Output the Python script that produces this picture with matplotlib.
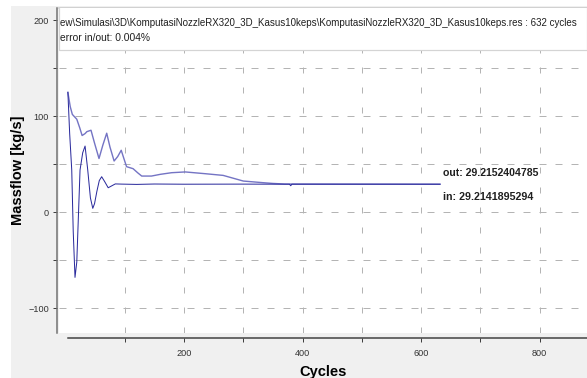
import matplotlib
matplotlib.use('Agg')
import matplotlib.pyplot as plt
from matplotlib import font_manager
from matplotlib.patches import Rectangle
from matplotlib.ticker import FixedLocator

# traced off the solver monitor: massflow in / out vs cycles
cyc_in = [4, 7, 10.5, 13, 16, 19, 24.5, 29, 33, 37.5, 42, 46, 49, 53, 57, 61,
          66, 72, 78, 84, 95, 120, 150, 200, 300, 378, 380, 382, 450, 632]
mf_in = [125, 82, 44, -20, -68, -52, 44, 62, 69, 44, 15, 4, 9, 22, 33, 37,
         32, 25.5, 27.5, 29.5, 29.3, 29, 29.4, 29.2, 29.3, 29.2, 27.6, 29.2, 29.2, 29.2]

cyc_out = [4, 8, 11.5, 19, 24, 28, 33, 36, 43, 49, 56.5, 63, 69.5, 75, 82, 88,
           94, 99, 103, 114, 122, 128.6, 145, 160, 179, 202, 235, 266, 300,
           333, 350, 370, 632]
mf_out = [125, 110, 102, 97, 88, 80, 82, 84, 85.5, 72, 56, 70, 82.4, 68, 53.4, 58,
          64.6, 55, 47.5, 45.4, 41, 37.7, 37.7, 39.5, 41.2, 42, 40.2, 38.4, 32.5,
          30.8, 30.0, 29.4, 29.2]

header = ['ew\\Simulasi\\3D\\KomputasiNozzleRX320_3D_Kasus10keps\\KomputasiNozzleRX320_3D_Kasus10keps.res : 632 cycles',
          'error in/out: 0.004%']
out_label = 'out: 29.2152404785'
in_label = 'in: 29.2141895294'

W, H = 587, 378
PT = 72 / 100.0  # points per pixel at dpi 100
FONT = 'Liberation Sans'
# a narrow face is closer to the original if it happens to be there
names = {f.name for f in font_manager.fontManager.ttflist}
NARROW = 'Liberation Sans Narrow' if 'Liberation Sans Narrow' in names else FONT

fig = plt.figure(figsize=(W / 100, H / 100), dpi=100, facecolor='white')
fig.patches.append(Rectangle((11 / W, 0), 1, 1 - 6 / H, transform=fig.transFigure,
                             facecolor='#f0f0f0', edgecolor='none', zorder=-10))
renderer = fig.canvas.get_renderer()


def fit_text(x, y, s, width_px, **kw):
    # squeeze the size so the line spans the same width as in the original
    t = fig.text(x / W, 1 - y / H, s, fontsize=8, family=NARROW, va='center', ha='left', **kw)
    w = t.get_window_extent(renderer).width
    t.set_fontsize(8 * width_px / w)
    return t


ax = fig.add_axes([59 / W, 45 / H, 1 - 59 / W, (333 - 8) / H])
ax.set_facecolor('white')
ax.set_xlim(-11, 880)
ax.set_ylim(-126, 213)

# grid
for yv in [150, 100, 50, 0, -50, -100]:
    ax.axhline(yv, color='#b4b4b4', lw=1 * PT, dashes=(7, 9), zorder=1)
for xv in range(100, 900, 100):
    ax.axvline(xv, color='#b4b4b4', lw=1 * PT, dashes=(6, 14), zorder=1)

ax.plot(cyc_out, mf_out, color='#7474c4', lw=1.4 * PT, zorder=3)
ax.plot(cyc_in, mf_in, color='#2a2a9c', lw=1.0 * PT, zorder=4)

# header box
ax.add_patch(Rectangle((0, (333 - 50) / 325), 1, 1, transform=ax.transAxes,
                       facecolor='white', edgecolor='#d4d4d4', lw=1.2 * PT, zorder=5))
t1 = fit_text(60, 23, header[0], 524, color='#202020', zorder=6)
fig.text(60 / W, 1 - 38 / H, header[1], fontsize=t1.get_fontsize() * 1.05, family=NARROW,
         color='#202020', va='center', ha='left', zorder=6)

fit_text(443, 173, out_label, 96, weight='bold', color='#202020', zorder=6)
fit_text(443, 197, in_label, 91, weight='bold', color='#202020', zorder=6)

# spines
ax.spines['right'].set_visible(False)
ax.spines['top'].set_color('#c8c8c8')
ax.spines['top'].set_linewidth(1.5 * PT)
ax.spines['left'].set_position(('outward', 2 * PT))
ax.spines['left'].set_color('#707070')
ax.spines['left'].set_linewidth(1.5 * PT)
ax.spines['bottom'].set_position(('outward', 5 * PT))
ax.spines['bottom'].set_bounds(4, 880)
ax.spines['bottom'].set_color('#404040')
ax.spines['bottom'].set_linewidth(1.5 * PT)

ax.xaxis.set_major_locator(FixedLocator([200, 400, 600, 800]))
ax.xaxis.set_minor_locator(FixedLocator([100, 300, 500, 700]))
ax.yaxis.set_major_locator(FixedLocator([-100, 0, 100, 200]))
ax.yaxis.set_minor_locator(FixedLocator([-50, 50, 150]))
ax.tick_params(which='both', direction='out', length=4 * PT, width=1 * PT, color='#404040',
               labelsize=6.6, labelcolor='#333333', pad=3)
ax.tick_params(axis='x', pad=5)
for lab in ax.get_xticklabels() + ax.get_yticklabels():
    lab.set_family(NARROW)

fig.text(18 / W, 1 - 170 / H, 'Massflow [kg/s]', rotation=90, fontsize=10.5, weight='bold',
         family=FONT, va='center', ha='center')
fig.text(323 / W, 1 - 372 / H, 'Cycles', fontsize=10.5, weight='bold',
         family=FONT, va='center', ha='center')

fig.savefig('out.png', dpi=100)
